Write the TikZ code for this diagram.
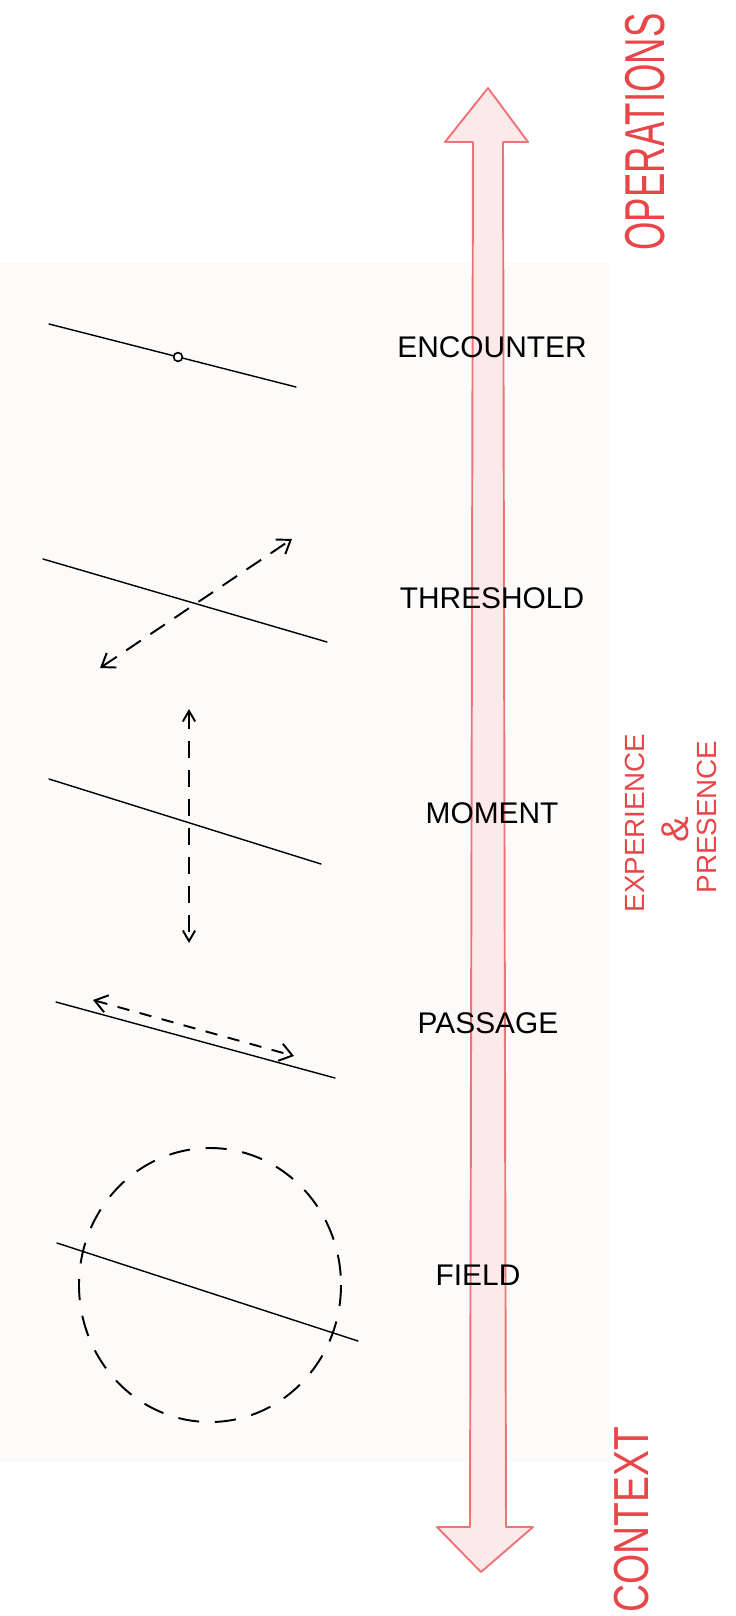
\documentclass[tikz,border=0pt]{standalone}
\usepackage{fontspec}
\setmainfont{Liberation Sans}
\usetikzlibrary{arrows.meta}
\definecolor{pen}{RGB}{232,70,72}
\definecolor{arrowline}{RGB}{238,116,120}
\definecolor{arrowfill}{RGB}{252,234,235}
\definecolor{paper}{RGB}{252,251,250}
\tikzset{
  stage/.style={
    inner sep = 0pt,
    font = \fontsize{17}{20}\selectfont
  },
  sidenote/.style={
    inner sep = 0pt,
    text = pen,
    rotate = 90
  },
  inkline/.style={
    line width = 0.8pt,
    line cap = round
  },
  inkdash/.style={
    line width = 1.1pt,
    dash pattern = on 10pt off 6.5pt
  },
  twohead/.style={
    {Straight Barb[length=7pt,width=10pt]}-{Straight Barb[length=7pt,width=10pt]}
  },
  bigarrow/.style={
    draw = arrowline,
    fill = arrowfill,
    line width = 1.1pt,
    line join = round
  },
  dot/.style={
    shape = circle,
    draw,
    fill = white,
    line width = 0.9pt,
    inner sep = 0pt,
    minimum size = 5pt
  }
}
\begin{document}
\begin{tikzpicture}[x=0.02cm,y=-0.02cm]
            \useasboundingbox (0,0) rectangle (736,1616);
            \fill[paper] (0,262) rectangle (610,1462);
            %the long two-way arrow
            \draw[bigarrow] (488,88) -- (528,142) -- (503,142) -- (506,1527) -- (533,1527)
                -- (481,1572) -- (437,1527) -- (470,1527) -- (473,142) -- (445,142) -- cycle;
            \foreach \x/\y/\t in {492/347/ENCOUNTER,492/598/THRESHOLD,492/813/MOMENT,488/1023/PASSAGE,478/1275/FIELD}{
                    \node[stage] (\t) at (\x,\y) {\t};
                }
            \node[sidenote,font=\fontsize{32}{34}\selectfont] (ops) at (645,132) {\scalebox{0.65}[1]{OPERATIONS}};
            \node[sidenote,font=\fontsize{28}{30}\selectfont] (ctx) at (632,1520) {\scalebox{0.79}[1]{CONTEXT}};
            \node[sidenote,font=\fontsize{15.8}{18}\selectfont] (exp) at (635,823) {EXPERIENCE};
            \node[sidenote,font=\fontsize{22}{24}\selectfont] (amp) at (675,830) {\&};
            \node[sidenote,font=\fontsize{15.8}{18}\selectfont] (pres) at (707,817) {PRESENCE};
            % encounter
            \coordinate (e1) at (49,324);
            \coordinate (e2) at (296,387);
            \draw[inkline] (e1) -- (e2);
            \node[dot] (meet) at (178,357) {};
            % threshold
            \coordinate (t1) at (43,559);
            \coordinate (t2) at (327,642);
            \coordinate (ta) at (100,668);
            \coordinate (tb) at (292,539);
            \draw[inkline] (t1) -- (t2);
            \draw[inkdash,twohead] (ta) -- (tb);
            % moment
            \coordinate (m1) at (49,779);
            \coordinate (m2) at (321,864);
            \coordinate (ma) at (189,709);
            \coordinate (mb) at (189,943);
            \draw[inkline] (m1) -- (m2);
            \draw[inkdash,{Straight Barb[length=6pt,width=7pt]}-{Straight Barb[length=6pt,width=7pt]}] (ma) -- (mb);
            % passage
            \coordinate (p1) at (56,1002);
            \coordinate (p2) at (335,1078);
            \coordinate (pa) at (93,1000);
            \coordinate (pb) at (294,1056);
            \draw[inkline] (p1) -- (p2);
            \draw[inkdash,dash pattern=on 7pt off 6pt,twohead] (pa) -- (pb);
            % field
            \coordinate (f1) at (57,1243);
            \coordinate (f2) at (358,1341);
            \draw[inkdash,dash pattern=on 12pt off 9pt] (210,1285) ellipse [x radius=131, y radius=137];
            \draw[inkline] (f1) -- (f2);
        \end{tikzpicture}
\end{document}
